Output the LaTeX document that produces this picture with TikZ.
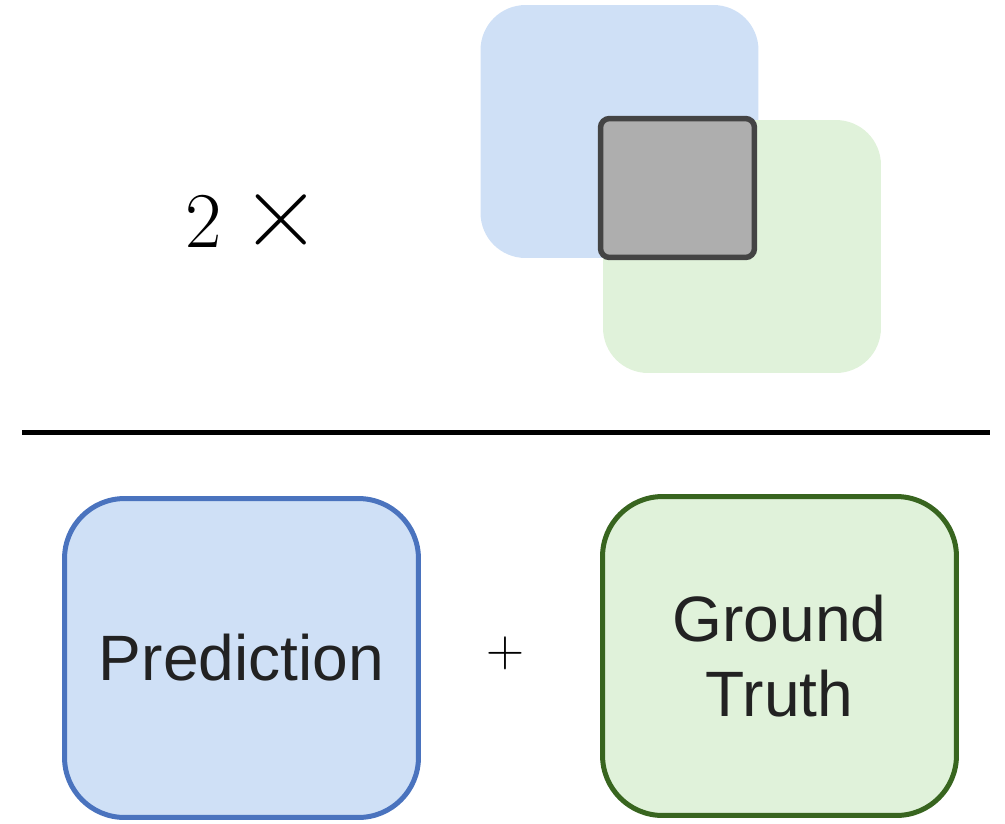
\documentclass[tikz,border=0pt]{standalone}
\usepackage{fontspec}
\usepackage{amsmath}
\setsansfont{Liberation Sans}
\usepackage{xcolor}
\definecolor{predfill}{HTML}{CFE0F6}
\definecolor{preddraw}{HTML}{4A73BE}
\definecolor{gtfill}{HTML}{E0F2DA}
\definecolor{gtdraw}{HTML}{38651F}
\definecolor{interfill}{HTML}{AEAEAE}
\definecolor{interdraw}{HTML}{444444}
\definecolor{txt}{HTML}{222222}

\begin{document}
\begin{tikzpicture}[
    x=0.02cm, y=-0.02cm,
    every node/.style={inner sep=0pt, align=center, text=txt},
    area/.style={rectangle, rounded corners=0.9cm, minimum width=5.56cm, minimum height=5.06cm},
    bigbox/.style={rectangle, rounded corners=1.2cm, line width=0.1cm, minimum width=7.08cm, minimum height=6.38cm,
        font=\sffamily\fontsize{36.5}{42.7}\selectfont}
]
\useasboundingbox (0,0) rectangle (1005,823);
\node[area, fill=predfill] (predarea) at (619.5,131.5) {};
\node[area, fill=gtfill] (gtarea) at (742,246.5) {};
\node[rectangle, rounded corners=0.18cm, fill=interfill, draw=interdraw, line width=0.11cm,
    minimum width=3.08cm, minimum height=2.78cm] (inter) at (677.5,188) {};
\node[font=\rmfamily\fontsize{45}{52}\selectfont, text=black] (two) at (253,221) {2\hspace{0.25em}\scalebox{1.4}{×}};
\coordinate (rulewest) at (22,432);
\coordinate (ruleeast) at (990,432);
\draw[line width=0.1cm] (rulewest) -- (ruleeast);
\node[bigbox, fill=predfill, draw=preddraw] (pred) at (241.5,658) {\raisebox{-3pt}{Prediction}};
\node[bigbox, fill=gtfill, draw=gtdraw] (gt) at (779.5,656) {Ground\\Truth};
\node[font=\rmfamily\fontsize{30}{34}\selectfont, text=black] (plus) at (505,653) {+};
\end{tikzpicture}
\end{document}
